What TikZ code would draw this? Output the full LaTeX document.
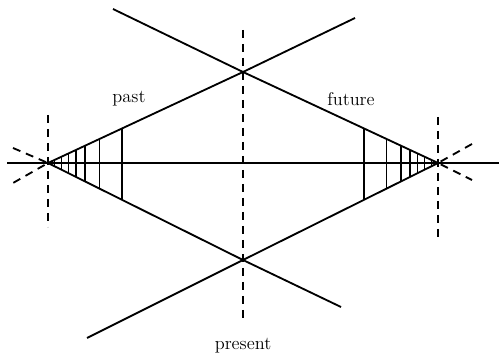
\documentclass[tikz,border=0pt]{standalone}
\usetikzlibrary{calc}
\begin{document}
\begin{tikzpicture}[x=0.6pt, y=-0.6pt, line width=1.1pt,
        dashline/.style={dash pattern=on 4.8pt off 3.6pt},
        every node/.style={font=\fontsize{11}{13}\selectfont}]
    \useasboundingbox (0,0) rectangle (499,356);
    % the four corners of the cone
    \coordinate (L) at (48,163);
    \coordinate (R) at (438,163);
    \coordinate (T) at (243,72);
    \coordinate (B) at (243,260);
    \coordinate (tl) at (113,9);
    \coordinate (tr) at (355,18);
    \coordinate (bl) at (87,338);
    \coordinate (br) at (341,307);
    \coordinate (h0) at (7,163);
    \coordinate (h1) at (499,163);
    \draw (h0) -- (h1);
    \draw (tl) -- (T) -- (R);
    \draw (L) -- (T) -- (tr);
    \draw (bl) -- (B) -- (R);
    \draw (L) -- (B) -- (br);
    % hatching
    \foreach \t in {0.033,0.069,0.105,0.144,0.19,0.264,0.38} {
        \draw ($(L)!\t!(T)$) -- ($(L)!\t!(B)$);
        \draw ($(R)!\t!(T)$) -- ($(R)!\t!(B)$);
    }
    % dashed lines
    \coordinate (lv0) at (48,115);
    \coordinate (lv1) at (48,227);
    \coordinate (mv0) at (243,30);
    \coordinate (mv1) at (243,323);
    \coordinate (rv0) at (438,117);
    \coordinate (rv1) at (438,240);
    \coordinate (lu) at (13,148);
    \coordinate (ld) at (13,183);
    \coordinate (ru) at (472,144);
    \coordinate (rd) at (472,180);
    \draw[dashline] (lv0) -- (lv1);
    \draw[dashline] (mv0) -- (mv1);
    \draw[dashline] (rv0) -- (rv1);
    \draw[dashline] (lu) -- (L) -- (ld);
    \draw[dashline] (ru) -- (R) -- (rd);

    \node (past) at (129,99) {past};
    \node (future) at (351,99) {future};
    \node (present) at (243,346) {present};
\end{tikzpicture}
\end{document}
